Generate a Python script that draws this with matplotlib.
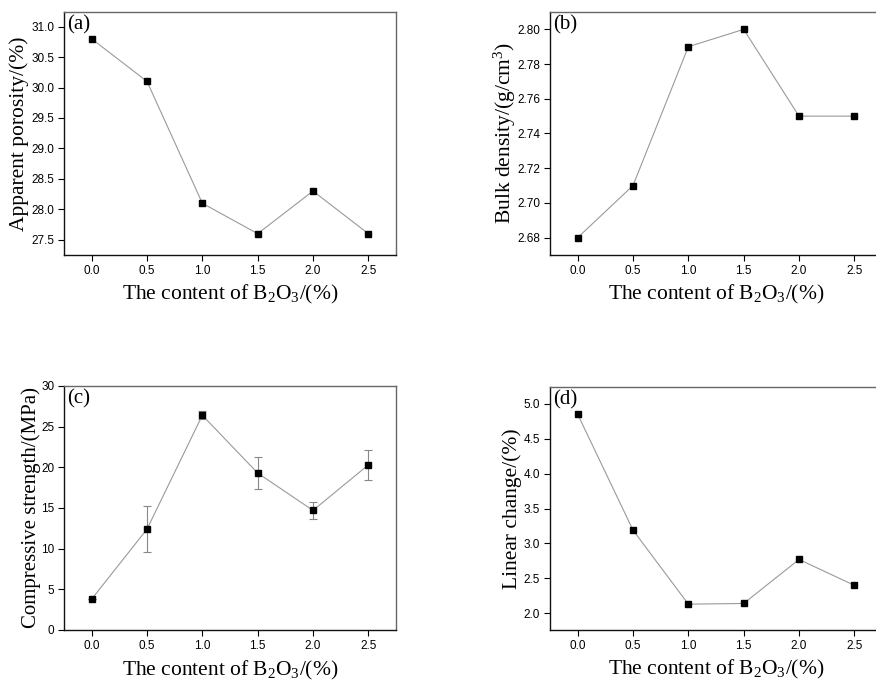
import matplotlib
matplotlib.use("Agg")
import matplotlib.pyplot as plt

plt.rcParams['font.family'] = ['Liberation Sans', 'DejaVu Sans']
plt.rcParams['mathtext.fontset'] = 'custom'
plt.rcParams['mathtext.rm'] = 'Liberation Serif'
plt.rcParams['mathtext.it'] = 'Liberation Serif:italic'

content = [0.0, 0.5, 1.0, 1.5, 2.0, 2.5]
porosity = [30.8, 30.1, 28.1, 27.6, 28.3, 27.6]
density = [2.68, 2.71, 2.79, 2.80, 2.75, 2.75]
strength = [3.8, 12.4, 26.4, 19.3, 14.7, 20.3]
strength_err = [0.0, 2.8, 0.5, 1.95, 1.0, 1.8]
linear = [4.85, 3.19, 2.13, 2.14, 2.77, 2.40]

xtick_labels = ['0.0', '0.5', '1.0', '1.5', '2.0', '2.5']

W, H = 876, 680
fig = plt.figure(figsize=(W / 100, H / 100), dpi=100)

def box(l, t, r, b):
    return [l / W, 1 - b / H, (r - l) / W, (b - t) / H]

serif = 'Liberation Serif'
xlabel = 'The content of B$_2$O$_3$/(%)'

panels = [
    dict(pos=box(64, 12, 396, 255), y=porosity, err=None, ylim=(27.25, 31.24),
         yticks=[27.5, 28.0, 28.5, 29.0, 29.5, 30.0, 30.5, 31.0], fmt='%.1f',
         ylabel='Apparent porosity/(%)', tag='(a)', ylx=-0.105, xly=-0.115, yfs=15.5),
    dict(pos=box(550, 12, 882, 255), y=density, err=None, ylim=(2.67, 2.81),
         yticks=[2.68, 2.70, 2.72, 2.74, 2.76, 2.78, 2.80], fmt='%.2f',
         ylabel='Bulk density/(g/cm$^3$)', tag='(b)', ylx=-0.096, xly=-0.115, yfs=15.5),
    dict(pos=box(64, 386, 396, 630), y=strength, err=strength_err, ylim=(0, 30),
         yticks=[0, 5, 10, 15, 20, 25, 30], fmt='%d',
         ylabel='Compressive strength/(MPa)', tag='(c)', ylx=-0.069, xly=-0.117, yfs=15),
    dict(pos=box(550, 387, 882, 630), y=linear, err=None, ylim=(1.76, 5.24),
         yticks=[2.0, 2.5, 3.0, 3.5, 4.0, 4.5, 5.0], fmt='%.1f',
         ylabel='Linear change/(%)', tag='(d)', ylx=-0.084, xly=-0.117, yfs=15.5),
]

for p in panels:
    ax = fig.add_axes(p['pos'])
    if p['err'] is not None:
        ax.errorbar(content, p['y'], yerr=p['err'], fmt='none', ecolor='#888888',
                    elinewidth=0.8, capsize=3, capthick=0.8, zorder=2)
    ax.plot(content, p['y'], color='#9a9a9a', lw=0.8, marker='s', ms=5,
            mfc='black', mec='black', zorder=3)
    ax.set_xlim(-0.25, 2.75)
    ax.set_ylim(*p['ylim'])
    ax.set_xticks(content)
    ax.set_xticklabels(xtick_labels)
    ax.set_yticks(p['yticks'])
    ax.set_yticklabels([p['fmt'] % v for v in p['yticks']])
    ax.tick_params(direction='out', length=4, width=0.8, labelsize=8.5,
                   colors='black', pad=3)
    for name, s in ax.spines.items():
        s.set_linewidth(1.0)
        s.set_color('#111111' if name in ('left', 'bottom') else '#666666')
    ax.set_ylabel(p['ylabel'], family=serif, fontsize=p['yfs'])
    ax.yaxis.set_label_coords(p['ylx'], 0.5)
    ax.set_xlabel(xlabel, family=serif, fontsize=15.5)
    ax.xaxis.set_label_coords(0.5, p['xly'])
    ax.text(0.008, 0.985, p['tag'], transform=ax.transAxes, family=serif,
            fontsize=15, va='top', ha='left')

fig.savefig('out.png', dpi=100)
